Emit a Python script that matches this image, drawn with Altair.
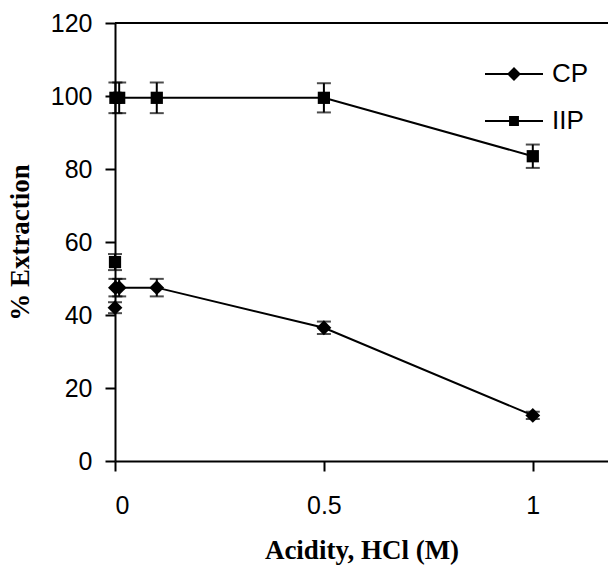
import altair as alt
import pandas as pd

# ---- data ----
series = ["CP", "IIP"]
cp_x = [0, 0.001, 0.01, 0.1, 0.5, 1.0]
cp_y = [42, 47.5, 47.5, 47.5, 36.5, 12.5]
cp_err = [1.5, 2.4, 2.4, 2.4, 1.7, 1.0]
iip_x = [0, 0.001, 0.01, 0.1, 0.5, 1.0]
iip_y = [54.5, 99.5, 99.5, 99.5, 99.5, 83.5]
iip_err = [2.2, 4.2, 4.2, 4.2, 4.0, 3.2]
x_ticks = [0, 0.5, 1]
y_ticks = [0, 20, 40, 60, 80, 100, 120]
x_max = 1.18
y_max = 120

rows = []
for name, xs, ys, es in [("CP", cp_x, cp_y, cp_err), ("IIP", iip_x, iip_y, iip_err)]:
    for i, (x, y, e) in enumerate(zip(xs, ys, es)):
        rows.append(dict(series=name, order=i, x=x, y=y, lo=y - e, hi=y + e))
df = pd.DataFrame(rows)

xscale = alt.Scale(domain=[0, x_max], nice=False, zero=False)
yscale = alt.Scale(domain=[0, y_max], nice=False)
xaxis = alt.Axis(values=x_ticks, format="~g", title="Acidity, HCl (M)",
                 labelPadding=22, titlePadding=19)
yaxis = alt.Axis(values=y_ticks, title="% Extraction", labelPadding=13, titlePadding=16)

X = alt.X("x:Q", scale=xscale, axis=xaxis)
Y = alt.Y("y:Q", scale=yscale, axis=yaxis)

base = alt.Chart(df)

lines = base.transform_filter("datum.order >= 1").mark_line(color="black", strokeWidth=2).encode(
    x=X, y=Y, detail="series:N", order="order:Q")

errs = base.mark_errorbar(ticks=True, size=14, thickness=2, color="black").encode(
    x=X, y=alt.Y("lo:Q", scale=yscale, axis=yaxis), y2="hi:Q")

points = base.mark_point(filled=True, opacity=1, color="black").encode(
    x=X, y=Y,
    shape=alt.Shape("series:N", scale=alt.Scale(domain=series, range=["diamond", "square"]), legend=None),
    size=alt.Size("series:N", scale=alt.Scale(domain=series, range=[220, 150]), legend=None),
)

# legend symbols: a thin bar (the line) plus the marker, all filled
cp_path = "M-1,-0.035L1,-0.035L1,0.035L-1,0.035ZM0,-0.24L0.24,0L0,0.24L-0.24,0Z"
iip_path = "M-1,-0.035L1,-0.035L1,0.035L-1,0.035ZM-0.17,-0.17L0.17,-0.17L0.17,0.17L-0.17,0.17Z"

legend_layer = base.transform_filter("false").mark_point(
    filled=True, opacity=1, color="black", size=3364
).encode(
    x=X, y=Y,
    shape=alt.Shape("series:N",
                    scale=alt.Scale(domain=series, range=[cp_path, iip_path]),
                    legend=alt.Legend(title=None, orient="none", legendX=370, legendY=22,
                                      labelFont="Liberation Sans", labelFontSize=26,
                                      labelColor="black", labelOffset=9, rowPadding=5,
                                      symbolSize=3364, symbolFillColor="black",
                                      symbolStrokeWidth=0, symbolOpacity=1)),
)

top_frame = alt.Chart(pd.DataFrame({"ymax": [y_max]})).mark_rule(
    color="black", strokeWidth=2
).encode(
    y=alt.Y("ymax:Q", scale=yscale, axis=yaxis),
    x=alt.datum(0, scale=xscale),
    x2=alt.datum(x_max),
)

chart = alt.layer(lines, errs, points, legend_layer, top_frame).resolve_scale(
    shape="independent", size="independent"
).properties(
    width=493, height=438,
    autosize=alt.AutoSizeParams(type="none"),
    padding={"left": 115, "top": 23, "right": 0, "bottom": 111},
).configure_view(stroke=None).configure_axis(
    grid=False, domainColor="black", domainWidth=2, tickColor="black", tickWidth=2,
    tickSize=10, labelFont="Liberation Sans", labelFontSize=25, labelColor="black",
    titleFont="Liberation Serif", titleFontWeight="bold", titleFontSize=27, titleColor="black",
)

chart.save("out.html", embed_options={"renderer": "svg", "actions": False})
